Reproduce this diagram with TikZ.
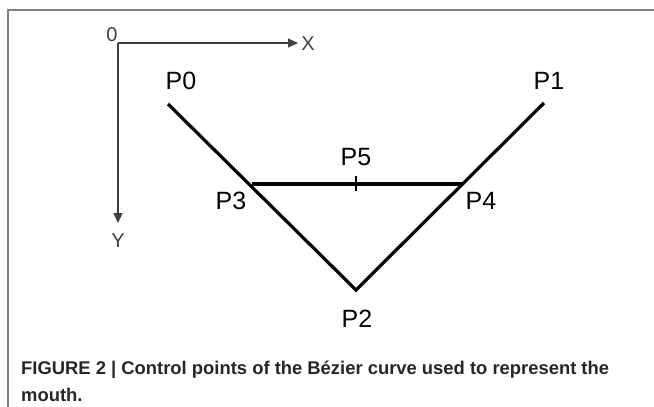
\documentclass[tikz,border=0pt]{standalone}
\usepackage{fontspec}
\setmainfont{Liberation Sans}
\usetikzlibrary{arrows.meta}
\begin{document}
\begin{tikzpicture}[x=1pt,y=-1pt,
  frame/.style={draw=black!50,line width=1.6pt},
  axis/.style={draw=black!75,line width=1.3pt,-{Triangle[length=10pt,width=9pt]}},
  mouth/.style={draw=black,line width=3.2pt},
  plabel/.style={font=\fontsize{25}{25}\selectfont,inner sep=0pt},
  alabel/.style={font=\fontsize{20}{20}\selectfont,inner sep=0pt,text=black!75},
  caption/.style={font=\fontsize{18.4}{27}\selectfont\bfseries,text=black!85,inner sep=0pt,anchor=base west}]
\useasboundingbox (0,0) rectangle (654,407);
% frame
\coordinate (fa) at (8,407);
\coordinate (fb) at (8,10);
\coordinate (fc) at (654,10);
\draw[frame] (fa) -- (fb) -- (fc);
% axes
\coordinate (O) at (118,43);
\coordinate (Xe) at (298,43);
\coordinate (Ye) at (118,223);
\draw[axis] (O) -- (Xe);
\draw[axis] (O) -- (Ye);
\node[alabel] (l0) at (112,35) {0};
\node[alabel] (lx) at (308,44) {X};
\node[alabel] (ly) at (118,241) {Y};
% mouth
\coordinate (a0) at (168,104);
\coordinate (p3) at (252,184);
\coordinate (p2) at (356,290);
\coordinate (p4) at (462,184);
\coordinate (a1) at (544,103);
\coordinate (p5) at (356,184);
\draw[mouth,line join=miter] (a0) -- (p2) -- (a1);
\draw[mouth] (p3) -- (p4);
\draw[line width=2pt] ([yshift=-7]p5) -- ([yshift=8]p5);
\node[plabel] (P0) at (181,81) {P0};
\node[plabel] (P1) at (549,81) {P1};
\node[plabel] (P5) at (356,157) {P5};
\node[plabel] (P3) at (231,201) {P3};
\node[plabel] (P4) at (481,201) {P4};
\node[plabel] (P2) at (357,319) {P2};
% caption
\node[caption] (cap1) at (21,374) {FIGURE 2 | Control points of the Bézier curve used to represent the};
\node[caption] (cap2) at (21,401) {mouth.};
\end{tikzpicture}
\end{document}
